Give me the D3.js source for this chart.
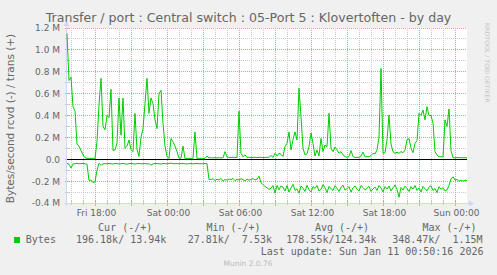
<!DOCTYPE html>
<html><head><meta charset="utf-8">
<script src="https://cdn.jsdelivr.net/npm/d3@7"></script>
<style>
html,body{margin:0;padding:0;background:#F0F0F0;}
svg{display:block;}
</style></head><body>
<svg id="c" width="497" height="275"></svg>
<script>
const title = "Transfer / port : Central switch : 05-Port 5 : Klovertoften - by day";
const yLabel = "Bytes/second rcvd (-) / trans (+)";
const seriesName = "Bytes";
const axisStart = "2026-01-09T15:37:30Z";
const axisEnd = "2026-01-11T00:57:30Z";
const dataStart = "2026-01-09T15:37:30Z";
const stepMinutes = 10;
// trans (+), kB/s
const transK = [
1150,720,750,480,440,140,120,80,40,15,
8,8,8,8,8,160,500,740,300,270,
400,380,640,80,85,150,560,220,560,100,
120,176,90,70,420,90,25,200,280,510,
740,420,560,510,360,280,600,630,330,120,
25,8,190,160,120,70,10,8,120,8,
8,8,8,8,250,8,8,8,8,8,
30,12,14,12,15,12,14,12,13,70,
20,17,16,18,17,16,440,54,23,40,
17,18,16,17,18,16,17,18,16,17,
18,17,35,17,54,30,55,45,25,115,
146,250,85,180,250,176,650,390,100,40,
50,115,240,146,30,85,30,190,70,130,
115,420,100,70,110,85,55,70,40,25,
17,25,80,25,17,17,17,30,65,23,
23,23,35,54,48,85,200,830,54,60,
176,405,140,70,54,65,54,70,60,85,
176,190,100,60,146,170,420,400,450,360,
480,400,400,330,70,39,23,23,20,360,
300,460,80,15,13,16,14,15,13,14,
14];
// rcvd (-), kB/s
const rcvdK = [
37,45,80,43,40,38,42,40,38,42,45,195,190,215,205,100,37,55,42,
40,42,38,41,44,39,40,43,41,38,42,45,40,39,41,44,40,38,42,41,
39,43,40,55,42,38,40,41,44,39,40,42,38,36,40,41,39,42,40,38,
41,43,40,39,42,40,38,41,40,42,39,41,
185,
185,178,195,182,190,176,200,185,192,180,188,175,196,183,190,178,186,198,180,192,185,176,190,182,
155,215,230,250,260,275,265,240,310,240,280,245,
255,290,240,300,262,230,285,270,310,245,
265,295,238,280,300,250,268,240,290,275,
232,260,305,248,270,285,242,265,295,255,
238,282,270,250,300,262,245,275,290,240,
258,280,266,248,295,270,255,285,240,262,
300,250,272,245,290,262,235,275,348,258,
282,246,268,295,250,272,240,285,262,300,
248,270,290,255,242,285,268,305,250,275,
260,290,
280,240,180,160,190,185,200,190,200,192,196];
const yTickValues = [-400000,-200000,0,200000,400000,600000,800000,1000000,1200000];
const yTickLabels = ["-0.4 M","-0.2 M","0.0","0.2 M","0.4 M","0.6 M","0.8 M","1.0 M","1.2 M"];
const xTickTimes = ["2026-01-09T18:00:00Z","2026-01-10T00:00:00Z","2026-01-10T06:00:00Z","2026-01-10T12:00:00Z","2026-01-10T18:00:00Z","2026-01-11T00:00:00Z"];
const xTickLabels = ["Fri 18:00","Sat 00:00","Sat 06:00","Sat 12:00","Sat 18:00","Sun 00:00"];
const legendHeaders = ["Cur (-/+)","Min (-/+)","Avg (-/+)","Max (-/+)"];
const legendValues = ["196.18k/ 13.94k","27.81k/  7.53k","178.55k/124.34k","348.47k/  1.15M"];
const lastUpdate = "Last update: Sun Jan 11 00:50:16 2026";
const footer = "Munin 2.0.76";
const watermark = "RRDTOOL / TOBI OETIKER";

const W=497,H=275, L=67, R=467, T=28, B=203;
const svg = d3.select("#c");
svg.append("rect").attr("width",W).attr("height",H).attr("fill","#F0F0F0");
svg.append("rect").attr("x",L).attr("y",T).attr("width",R-L).attr("height",B-T).attr("fill","#FFFFFF");

const x = d3.scaleUtc().domain([new Date(axisStart), new Date(axisEnd)]).range([L,R]);
const y = d3.scaleLinear().domain([-400000,1200000]).range([B,T]);
const px = v => Math.floor(v)+0.5;

const grid = svg.append("g");
const minorY = d3.range(-4,13).map(k=>k*100000);
minorY.forEach(v=>{
  const major = (Math.round(v/100000)%2===0);
  grid.append("line").attr("x1",L).attr("x2",R).attr("y1",px(y(v))).attr("y2",px(y(v)))
    .attr("stroke", major? "#E89A9A":"#C8C8C8").attr("stroke-dasharray","1,1").attr("stroke-width",1);
});
const hours = d3.utcHour.range(new Date(axisStart), new Date(axisEnd));
hours.forEach(h=>{
  const major = h.getUTCHours()%3===0;
  const xx = px(x(h));
  grid.append("line").attr("x1",xx).attr("x2",xx).attr("y1",T).attr("y2",B)
    .attr("stroke", major? "#E89A9A":"#C8C8C8").attr("stroke-dasharray","1,1").attr("stroke-width",1);
  grid.append("line").attr("x1",xx).attr("x2",xx).attr("y1",B-2).attr("y2",B+(major?3:2))
    .attr("stroke", major? "#E89A9A":"#C8C8C8").attr("stroke-width",1);
});
minorY.forEach(v=>{
  const major = (Math.round(v/100000)%2===0);
  grid.append("line").attr("x1",L-2).attr("x2",L+2).attr("y1",px(y(v))).attr("y2",px(y(v)))
    .attr("stroke", major? "#E89A9A":"#C8C8C8").attr("stroke-width",1);
});

const axisCol = "#CFD6F8";
svg.append("line").attr("x1",L-3).attr("x2",R+3).attr("y1",B+0.5).attr("y2",B+0.5).attr("stroke",axisCol);
svg.append("path").attr("d",`M${R+2},${B-2.5}L${R+7},${B+0.5}L${R+2},${B+3.5}Z`).attr("fill",axisCol);
svg.append("line").attr("x1",L-0.5).attr("x2",L-0.5).attr("y1",B+3).attr("y2",T-3).attr("stroke",axisCol);
svg.append("path").attr("d",`M${L-3.5},${T-2}L${L-0.5},${T-7}L${L+2.5},${T-2}Z`).attr("fill",axisCol);

svg.append("line").attr("x1",L).attr("x2",R).attr("y1",px(y(0))).attr("y2",px(y(0))).attr("stroke","#000").attr("stroke-width",1);

const t0 = new Date(dataStart).getTime();
const tAt = i => new Date(t0 + i*stepMinutes*60000);
const line = d3.line().x(d=>x(d.t)).y(d=>y(d.v));
const transData = transK.map((v,i)=>({t:tAt(i), v:v*1000}));
const rcvdData = rcvdK.map((v,i)=>({t:tAt(i), v:-v*1000}));
svg.append("path").datum(rcvdData).attr("d",line).attr("fill","none").attr("stroke","#00CC00").attr("stroke-width",1);
svg.append("path").datum(transData).attr("d",line).attr("fill","none").attr("stroke","#00CC00").attr("stroke-width",1);

const font = "'DejaVu Sans', sans-serif";
const mono = "'DejaVu Sans Mono', monospace";
const fcol = "#666666";

const yAxis = d3.axisLeft(y).tickValues(yTickValues).tickFormat((d,i)=>yTickLabels[i]).tickSize(0).tickPadding(7);
const ga = svg.append("g").attr("transform",`translate(${L},0)`).call(yAxis);
ga.select(".domain").remove();
ga.selectAll("text").attr("font-family",font).attr("font-size",9).attr("fill",fcol);

const xAxis = d3.axisBottom(x).tickValues(xTickTimes.map(s=>new Date(s))).tickFormat((d,i)=>xTickLabels[i]).tickSize(0).tickPadding(6.6);
const gx = svg.append("g").attr("transform",`translate(0,${B})`).call(xAxis);
gx.select(".domain").remove();
gx.selectAll("text").attr("font-family",font).attr("font-size",9).attr("fill",fcol).attr("dx",0.5);

svg.append("text").attr("x",248.5).attr("y",21.5).attr("text-anchor","middle")
  .attr("font-family",font).attr("font-size",12.6).attr("fill",fcol).text(title);
svg.append("text").attr("transform","translate(14,118.5) rotate(-90)").attr("text-anchor","middle")
  .attr("font-family",font).attr("font-size",10.5).attr("fill",fcol).text(yLabel);
svg.append("text").attr("transform","translate(485,23) rotate(90)").attr("text-anchor","start")
  .attr("font-family",font).attr("font-size",6.2).attr("fill","#C8C8C8").text(watermark);

const hx = [98.1,206.4,314.9,422.4];
legendHeaders.forEach((s,i)=>svg.append("text").attr("x",hx[i]).attr("y",231).attr("font-family",mono).attr("font-size",10)
  .attr("fill",fcol).style("white-space","pre").text(s));
svg.append("rect").attr("x",14).attr("y",237).attr("width",6).attr("height",6).attr("fill","#00CC00");
svg.append("text").attr("x",25.8).attr("y",243).attr("font-family",mono).attr("font-size",10).attr("fill",fcol).text(seriesName);
const vx = [76,187.7,286.3,392.2];
legendValues.forEach((s,i)=>svg.append("text").attr("x",vx[i]).attr("y",243).attr("font-family",mono).attr("font-size",10)
  .attr("fill",fcol).style("white-space","pre").text(s));
svg.append("text").attr("x",483.5).attr("y",255).attr("text-anchor","end").attr("font-family",mono).attr("font-size",10)
  .attr("fill",fcol).style("white-space","pre").text(lastUpdate);
svg.append("text").attr("x",248).attr("y",266).attr("text-anchor","middle").attr("font-family",font).attr("font-size",7.5)
  .attr("fill","#BBBBBB").text(footer);
</script>
</body></html>
